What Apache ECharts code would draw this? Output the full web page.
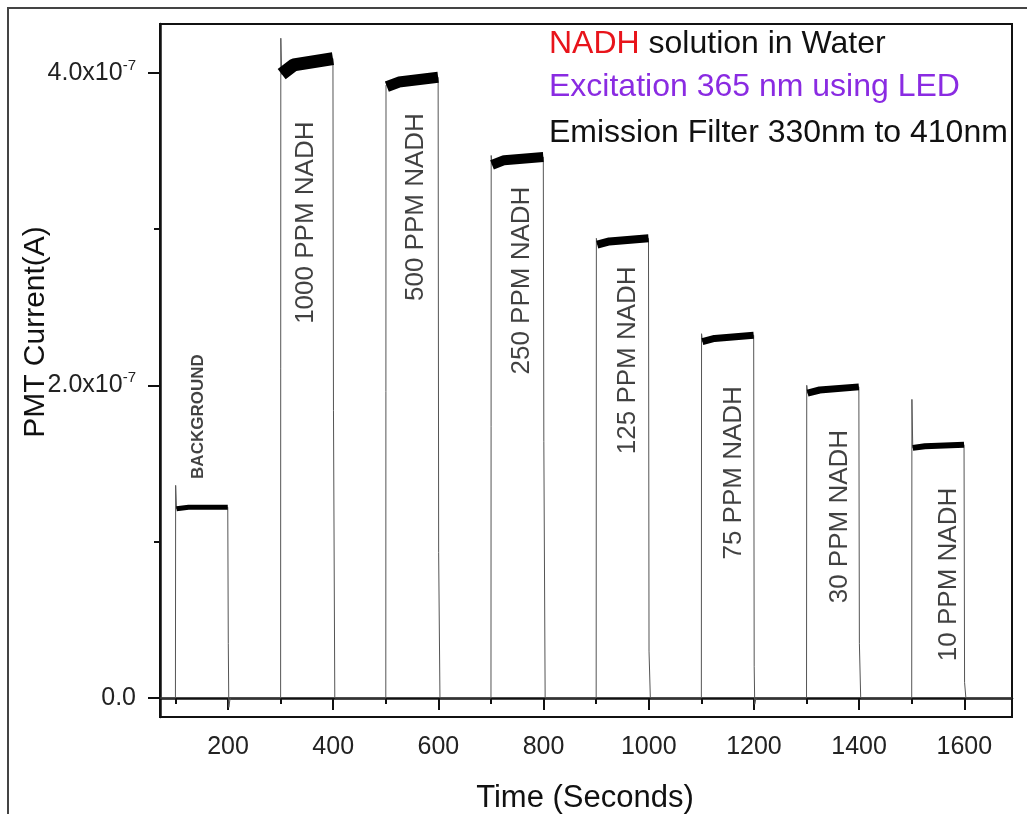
<!DOCTYPE html>
<html>
<head>
<meta charset="utf-8">
<title>NADH PMT current</title>
<script src="https://cdn.jsdelivr.net/npm/echarts@6/dist/echarts.min.js"></script>
<style>
  html, body { margin: 0; padding: 0; background: #fff; }
  #chart { width: 1027px; height: 814px; }
</style>
</head>
<body>
<div id="chart"></div>
<script>
// time in seconds, current in units of 1e-7 A
var traceTime = [
  71, 100, 100.4, 102, 125, 199.5, 200.5, 201.5, 204,
  300, 300.4, 302, 325, 399.5, 400.5, 403,
  500, 500.4, 502, 525, 599.5, 600.5, 603,
  700, 700.4, 702, 725, 799.5, 800.5, 803,
  900, 900.4, 902, 925, 999.5, 1000.5, 1003,
  1100, 1100.4, 1102, 1125, 1199.5, 1200.5, 1201.5, 1204,
  1300, 1300.4, 1302, 1325, 1399.5, 1400.5, 1403,
  1500, 1500.4, 1502, 1525, 1599.5, 1600.5, 1603, 1690
];
var traceCurrent = [
  0, 0, 1.36, 1.21, 1.22, 1.22, 0.35, -0.06, 0,
  0, 4.22, 3.99, 4.05, 4.09, 1.84, 0,
  0, 3.92, 3.91, 3.94, 3.97, 0.93, 0,
  0, 3.47, 3.41, 3.44, 3.46, 1.64, 0,
  0, 2.94, 2.90, 2.92, 2.94, 0.30, 0,
  0, 2.33, 2.28, 2.30, 2.32, 0.20, -0.04, 0,
  0, 2.00, 1.95, 1.97, 1.99, 0.35, 0,
  0, 1.91, 1.60, 1.61, 1.62, 0.10, 0, 0
];

var sampleNames = ['BACKGROUND', '1000 PPM NADH', '500 PPM NADH', '250 PPM NADH',
  '125 PPM NADH', '75 PPM NADH', '30 PPM NADH', '10 PPM NADH'];
var stepStart = [100, 300, 500, 700, 900, 1100, 1300, 1500];
var stepEnd = [200, 400, 600, 800, 1000, 1200, 1400, 1600];
// where each sample name is written
var labelTime = [143, 348, 558, 759, 961, 1161, 1364, 1570];
var labelCurrent = [1.80, 3.04, 3.14, 2.67, 2.16, 1.44, 1.16, 0.79];

var xTicks = [200, 400, 600, 800, 1000, 1200, 1400, 1600];
var xMinorTicks = [100, 300, 500, 700, 900, 1100, 1300, 1500];
var yTicks = [0, 2, 4];
var yMinorTicks = [1, 3];

// noise band thickness on each plateau (px)
var bandWidth = [5, 13, 11, 10, 8, 7, 7, 6];

var font = 'Liberation Sans, Arial, sans-serif';
var xMin = 70.65, xMax = 1690.7;
var yMin = -0.1215, yMax = 4.311;

var trace = [];
for (var i = 0; i < traceTime.length; i++) {
  trace.push([traceTime[i], traceCurrent[i]]);
}

var series = [{
  type: 'line',
  xAxisIndex: 0,
  yAxisIndex: 0,
  data: trace,
  symbol: 'none',
  silent: true,
  lineStyle: { color: '#555', width: 1 },
  z: 2
}];

for (var s = 0; s < stepStart.length; s++) {
  var band = [];
  for (var j = 0; j < trace.length; j++) {
    if (trace[j][0] >= stepStart[s] + 1 && trace[j][0] <= stepEnd[s]) band.push(trace[j]);
  }
  series.push({
    type: 'line',
    xAxisIndex: 0,
    yAxisIndex: 0,
    data: band,
    symbol: 'none',
    silent: true,
    lineStyle: { color: '#000', width: bandWidth[s], cap: 'butt', join: 'bevel' },
    z: 3
  });
}

var labelData = [];
for (var k = 0; k < sampleNames.length; k++) {
  labelData.push({ name: sampleNames[k], value: [labelTime[k], labelCurrent[k]] });
}
// background label is smaller and bold
labelData[0].label = { fontSize: 17, fontWeight: 'bold' };

series.push({
  type: 'scatter',
  xAxisIndex: 0,
  yAxisIndex: 0,
  data: labelData,
  symbolSize: 0,
  silent: true,
  z: 4,
  label: {
    show: true,
    position: 'inside',
    rotate: 90,
    formatter: function (p) { return p.name; },
    fontFamily: font,
    fontSize: 26,
    color: '#111',
    align: 'center',
    verticalAlign: 'middle'
  }
});

function yLabel(v) {
  if (v === 0) return '{b|0.0}';
  return '{b|' + v.toFixed(1) + 'x10}{s|-7}';
}

var option = {
  animation: false,
  backgroundColor: '#fff',
  grid: {
    left: 160, right: 15, top: 24, bottom: 97,
    show: true, borderColor: '#111', borderWidth: 2
  },
  xAxis: [{
    type: 'value', min: xMin, max: xMax,
    axisLine: { show: true, lineStyle: { color: '#111', width: 2.5 } },
    axisTick: { show: true, customValues: xTicks, length: 12, lineStyle: { color: '#111', width: 2 } },
    axisLabel: {
      customValues: xTicks, fontFamily: font, fontSize: 25, color: '#222', margin: 18,
      formatter: function (v) { return String(v); }
    },
    splitLine: { show: false }
  }, {
    type: 'value', min: xMin, max: xMax, position: 'bottom',
    axisLine: { show: false },
    axisTick: { show: true, customValues: xMinorTicks, length: 6, lineStyle: { color: '#111', width: 2 } },
    axisLabel: { show: false },
    splitLine: { show: false }
  }],
  yAxis: [{
    type: 'value', min: yMin, max: yMax,
    axisLine: { show: true, lineStyle: { color: '#111', width: 2.5 } },
    axisTick: { show: true, customValues: yTicks, length: 12, lineStyle: { color: '#111', width: 2 } },
    axisLabel: {
      customValues: yTicks, margin: 24,
      formatter: yLabel,
      rich: {
        b: { fontFamily: font, fontSize: 25, color: '#222' },
        s: { fontFamily: font, fontSize: 15, color: '#222', padding: [0, 0, 14, 0] }
      }
    },
    splitLine: { show: false }
  }, {
    type: 'value', min: yMin, max: yMax, position: 'left',
    axisLine: { show: false },
    axisTick: { show: true, customValues: yMinorTicks, length: 6, lineStyle: { color: '#111', width: 2 } },
    axisLabel: { show: false },
    splitLine: { show: false }
  }],
  graphic: [{
    type: 'rect',
    shape: { x: 8, y: 8, width: 1040, height: 830 },
    style: { fill: 'none', stroke: '#444', lineWidth: 2 },
    silent: true
  }, {
    type: 'text',
    x: 585, y: 798,
    style: { text: 'Time (Seconds)', font: '31px ' + font, fill: '#111', align: 'center', verticalAlign: 'middle' }
  }, {
    type: 'text',
    x: 36, y: 332, rotation: Math.PI / 2,
    style: { text: 'PMT Current(A)', font: '30px ' + font, fill: '#111', align: 'center', verticalAlign: 'middle' }
  }, {
    type: 'text',
    x: 549, y: 44,
    style: {
      text: '{r|NADH} solution in Water',
      font: '32px ' + font, fill: '#111', align: 'left', verticalAlign: 'middle',
      rich: { r: { fill: '#e8141b', font: '32px ' + font } }
    }
  }, {
    type: 'text',
    x: 549, y: 87,
    style: { text: 'Excitation 365 nm using LED', font: '32px ' + font, fill: '#8a2be2', align: 'left', verticalAlign: 'middle' }
  }, {
    type: 'text',
    x: 549, y: 133,
    style: { text: 'Emission Filter 330nm to 410nm', font: '32px ' + font, fill: '#111', align: 'left', verticalAlign: 'middle' }
  }],
  series: series
};

var myChart = echarts.init(document.getElementById('chart'));
myChart.setOption(option);
</script>
</body>
</html>
